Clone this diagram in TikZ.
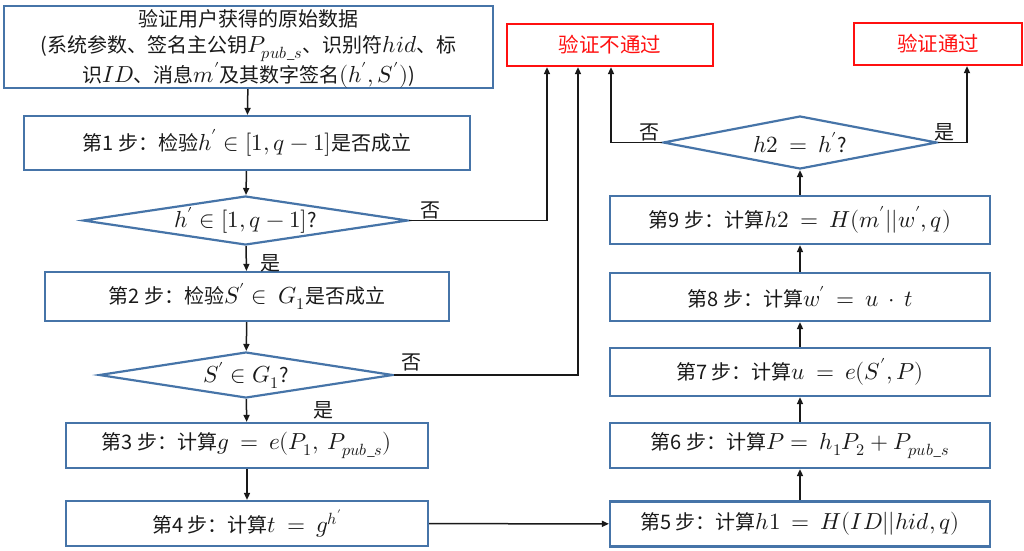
\documentclass[tikz,border=0pt]{standalone}
\usepackage{fontspec}
\usepackage{unicode-math}
\setmainfont{Noto Sans CJK SC}
\setmathfont{Latin Modern Math}[Scale=1.16]
\usetikzlibrary{shapes.geometric,arrows.meta}
\definecolor{boxblue}{HTML}{4674A8}
\definecolor{boxred}{HTML}{FF1010}
\tikzset{
  stepbox/.style={draw=boxblue, line width=2.2pt, rectangle, inner sep=0pt, font=\fontsize{20}{24}\selectfont, text=black!90},
  decbox/.style={draw=boxblue, line width=2.2pt, diamond, inner sep=0pt, font=\fontsize{20}{24}\selectfont, text=black!90},
  endbox/.style={draw=boxred, line width=2.2pt, rectangle, inner sep=0pt, font=\fontsize{20.5}{24}\selectfont, text=boxred},
  conn/.style={draw=black!90, line width=1.5pt},
  arr/.style={conn, -{Triangle[length=7pt,width=6pt]}},
  lbl/.style={font=\fontsize{20}{24}\selectfont, text=black!90, inner sep=0pt}
}
\begin{document}
\begin{tikzpicture}[x=1pt,y=-1pt]
\useasboundingbox (0,0) rectangle (1024,550);
% left column
\node[stepbox, minimum width=489pt, minimum height=82pt] (top) at (248.5,47) {};
\node[font=\fontsize{20}{26}\selectfont, align=center, inner sep=0pt, text=black!90] (toptext) at (248.5,49)
  {验证用户获得的原始数据\\(系统参数、签名主公钥$P_{pub\_s}$、识别符$hid$、标\\识$ID$、消息$m'$及其数字签名$(h',S')$)};
\node[stepbox, minimum width=446pt, minimum height=54pt] (s1) at (247,143) {第1 步：检验$h'\in[1,q-1]$是否成立};
\node[decbox, minimum width=325pt, minimum height=49pt, aspect=6.6] (d1) at (245.5,220.5) {$h'\in[1,q-1]$?};
\node[stepbox, minimum width=404pt, minimum height=49pt] (s2) at (247,296.5) {第2 步：检验$S'\in\ G_1$是否成立};
\node[decbox, minimum width=294pt, minimum height=46pt, aspect=6.4] (d2) at (246,375) {$S'\in G_1$?};
\node[stepbox, minimum width=362pt, minimum height=45pt] (s3) at (247,445.5) {第3 步：计算$g\ =\ e(P_1,\ P_{pub\_s})$};
\node[stepbox, minimum width=362pt, minimum height=45pt] (s4) at (247,523.5) {第4 步：计算$t\ =\ g^{h'}$};
% right column
\node[stepbox, minimum width=380pt, minimum height=45pt] (s5) at (800,524) {第5 步：计算$h1\ =\ H(ID||hid,q)$};
\node[stepbox, minimum width=380pt, minimum height=45pt] (s6) at (800,445.5) {第6 步：计算$P=\ h_1P_2+P_{pub\_s}$};
\node[stepbox, minimum width=380pt, minimum height=48pt] (s7) at (800,372) {第7 步：计算$u\ =\ e(S',P)$};
\node[stepbox, minimum width=380pt, minimum height=48pt] (s8) at (800,297) {第8 步：计算$w'\ =\ u\ \cdot\ t$};
\node[stepbox, minimum width=380pt, minimum height=48pt] (s9) at (800,220) {第9 步：计算$h2\ =\ H(m'||w',q)$};
\node[decbox, minimum width=274pt, minimum height=53pt, aspect=5.2] (d3) at (800,142.5) {$h2\ =\ h'$?};
% end boxes
\node[endbox, minimum width=206pt, minimum height=42pt] (fail) at (610,45) {验证不通过};
\node[endbox, minimum width=168pt, minimum height=42pt] (pass) at (938,44) {验证通过};
% coordinates for bends
\coordinate (c1) at (547,220.5);
\coordinate (c2) at (578,375);
\coordinate (c3) at (611,142.5);
\coordinate (c4) at (967,142.5);
% connectors left
\draw[arr] (top) -- (s1);
\draw[arr] (s1) -- (d1);
\draw[arr] (d1) -- (s2);
\draw[arr] (s2) -- (d2);
\draw[arr] (d2) -- (s3);
\draw[arr] (s3) -- (s4);
\draw[arr] (s4) -- (s5);
% connectors right
\draw[arr] (s5) -- (s6);
\draw[arr] (s6) -- (s7);
\draw[arr] (s7) -- (s8);
\draw[arr] (s8) -- (s9);
\draw[arr] (s9) -- (d3);
% to end boxes
\draw[arr] (d1.east) -- (c1) -- (c1 |- fail.south);
\draw[arr] (d2.east) -- (c2) -- (c2 |- fail.south);
\draw[arr] (d3.west) -- (c3) -- (c3 |- fail.south);
\draw[arr] (d3.east) -- (c4) -- (c4 |- pass.south);
% labels
\node[lbl] (l1) at (270,263) {是};
\node[lbl] (l2) at (430,210) {否};
\node[lbl] (l3) at (323,410) {是};
\node[lbl] (l4) at (411,362) {否};
\node[lbl] (l5) at (649,132) {否};
\node[lbl] (l6) at (944,132) {是};
\end{tikzpicture}
\end{document}
